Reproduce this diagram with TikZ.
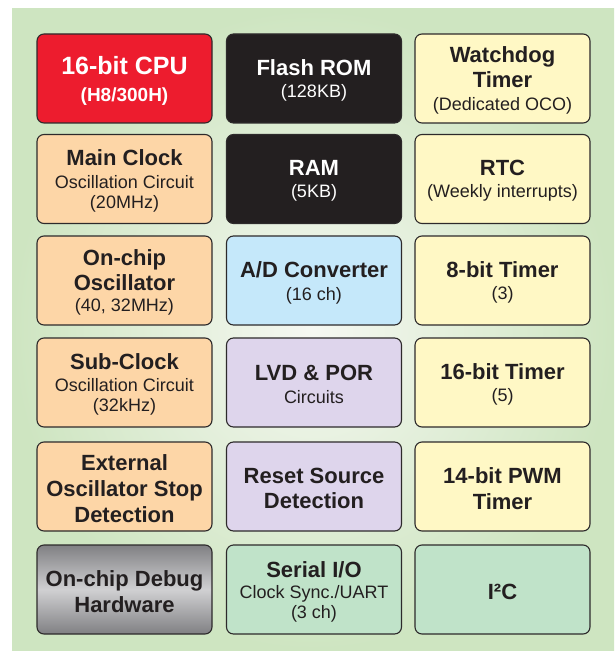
\documentclass[tikz,border=0pt]{standalone}
\usepackage{fontspec}
\setmainfont{Liberation Sans}
\definecolor{edge}{RGB}{45,42,43}
\definecolor{ink}{RGB}{35,31,32}
\definecolor{cpured}{RGB}{237,28,46}
\definecolor{darkbox}{RGB}{35,31,32}
\definecolor{peach}{RGB}{253,214,167}
\definecolor{lemon}{RGB}{255,248,197}
\definecolor{skyb}{RGB}{197,232,250}
\definecolor{lilac}{RGB}{222,213,236}
\definecolor{mint}{RGB}{192,227,201}
\definecolor{greyA}{RGB}{128,128,131}
\definecolor{greyB}{RGB}{208,208,210}
\definecolor{bgout}{RGB}{206,229,193}
\definecolor{bgin}{RGB}{246,248,242}
\newcommand\ttl[1]{{\fontsize{22}{25}\selectfont\bfseries #1}}
\newcommand\sbt[1]{{\fontsize{18}{20}\selectfont #1}}
% #1 box style, #2 name, #3 centre, #4 text
\newcommand\blkbox[4]{%
  \node[#1] (#2) at (#3) {};
  \node[lbl, #1txt] (#2-t) at ([yshift=-2pt]#2.center) {#4};}
\begin{document}
\lineskiplimit=-100pt\relax
\begin{tikzpicture}[x=1pt,y=-1pt,
  blk/.style={draw=edge, line width=1.1pt, rounded corners=7pt,
    minimum width=175pt, minimum height=89pt, inner sep=0pt},
  lbl/.style={inner sep=0pt, align=center, text=ink,
    font=\fontsize{18}{20}\selectfont},
  pch/.style={blk, fill=peach},
  yel/.style={blk, fill=lemon},
  blu/.style={blk, fill=skyb},
  lil/.style={blk, fill=lilac},
  grn/.style={blk, fill=mint},
  dk/.style={blk, fill=darkbox},
  rd/.style={blk, fill=cpured},
  gry/.style={blk, top color=greyA, bottom color=greyA, middle color=greyB},
  pchtxt/.style={}, yeltxt/.style={}, blutxt/.style={}, liltxt/.style={},
  grntxt/.style={}, grytxt/.style={},
  dktxt/.style={text=white}, rdtxt/.style={text=white}]
\useasboundingbox (0,0) rectangle (614,652);
\fill[white] (0,0) rectangle (614,652);
\shade[inner color=bgin, outer color=bgout] (12,9) rectangle (614,650);
% column 1
\blkbox{rd}{cpu}{124.5,78.5}{{\fontsize{25}{28}\selectfont\bfseries 16-bit CPU}\\[7pt]{\fontsize{19}{21}\selectfont\bfseries (H8/300H)}}
\blkbox{pch}{mclk}{124.5,179}{\ttl{Main Clock}\\[2.5pt]\sbt{Oscillation Circuit}\\\sbt{(20MHz)}}
\blkbox{pch}{ocosc}{124.5,280.5}{\ttl{On-chip}\\[5pt]\ttl{Oscillator}\\[1.5pt]\sbt{(40, 32MHz)}}
\blkbox{pch}{sclk}{124.5,382.5}{\ttl{Sub-Clock}\\[2.5pt]\sbt{Oscillation Circuit}\\\sbt{(32kHz)}}
\blkbox{pch}{eosd}{124.5,486.5}{\ttl{External}\\[6pt]\ttl{Oscillator Stop}\\[6pt]\ttl{Detection}}
\blkbox{gry}{dbg}{124.5,589.5}{\ttl{On-chip Debug}\\[5.5pt]\ttl{Hardware}}
% column 2
\blkbox{dk}{rom}{314,78.5}{\ttl{Flash ROM}\\[2.5pt]\sbt{(128KB)}}
\blkbox{dk}{ram}{314,179}{\ttl{RAM}\\[2.5pt]\sbt{(5KB)}}
\blkbox{blu}{adc}{314,280.5}{\ttl{A/D Converter}\\[3pt]\sbt{(16 ch)}}
\blkbox{lil}{lvd}{314,382.5}{\ttl{LVD \& POR}\\[2.5pt]\sbt{Circuits}}
\blkbox{lil}{rsd}{314,486.5}{\ttl{Reset Source}\\[5pt]\ttl{Detection}}
\blkbox{grn}{sio}{314,589.5}{\ttl{Serial I/O}\\[1pt]\sbt{Clock Sync./UART}\\\sbt{(3 ch)}}
% column 3
\blkbox{yel}{wdt}{502.5,78.5}{\ttl{Watchdog}\\[5pt]\ttl{Timer}\\[2.5pt]\sbt{(Dedicated OCO)}}
\blkbox{yel}{rtc}{502.5,179}{\ttl{RTC}\\[2pt]\sbt{(Weekly interrupts)}}
\blkbox{yel}{t8}{502.5,280.5}{\ttl{8-bit Timer}\\[2.5pt]\sbt{(3)}}
\blkbox{yel}{t16}{502.5,382.5}{\ttl{16-bit Timer}\\[2.5pt]\sbt{(5)}}
\blkbox{yel}{pwm}{502.5,486.5}{\ttl{14-bit PWM}\\[5.5pt]\ttl{Timer}}
\blkbox{grn}{iic}{502.5,589.5}{\ttl{I²C}}
\end{tikzpicture}
\end{document}
